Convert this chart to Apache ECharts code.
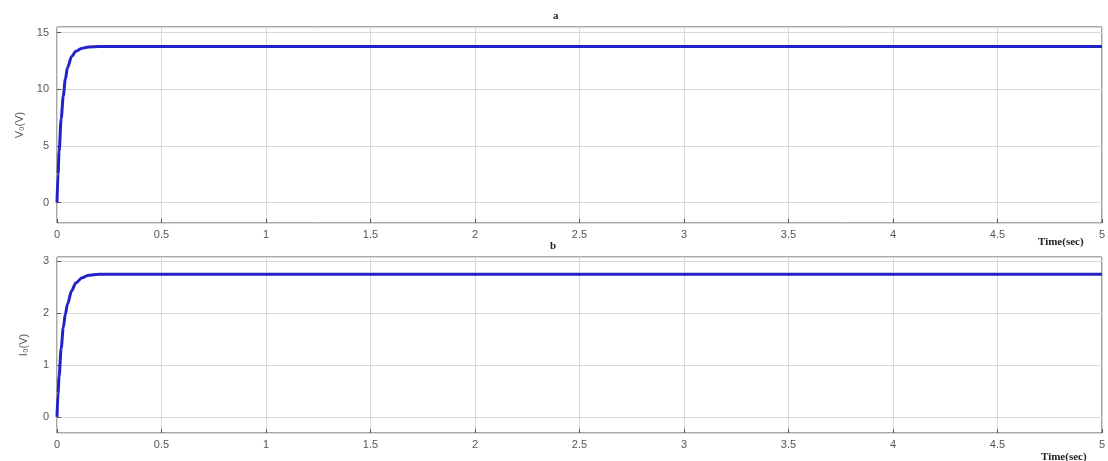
<!DOCTYPE html>
<html><head><meta charset="utf-8">
<script src="https://cdn.jsdelivr.net/npm/echarts@6/dist/echarts.min.js"></script>
<style>html,body{margin:0;padding:0;background:#fff}#c{width:1108px;height:461px}</style>
</head><body><div id="c"></div>
<script>
const timeA = [0,0.005,0.01,0.02,0.03,0.04,0.05,0.07,0.09,0.12,0.15,0.2,0.5,1,2,3,4,5];
const voltA = [0,2.5,4.5,7.4,9.4,10.9,11.9,12.9,13.35,13.62,13.74,13.78,13.78,13.78,13.78,13.78,13.78,13.78];
const timeB = [0,0.005,0.01,0.02,0.03,0.04,0.05,0.07,0.09,0.12,0.15,0.2,0.5,1,2,3,4,5];
const currB = [0,0.45,0.78,1.32,1.72,1.98,2.17,2.43,2.58,2.68,2.73,2.75,2.75,2.75,2.75,2.75,2.75,2.75];
const xTicks = ['0','0.5','1','1.5','2','2.5','3','3.5','4','4.5','5'];

const chart = echarts.init(document.getElementById('c'));
const lab = {color:'#555', fontSize:11, fontFamily:'Liberation Sans, Arial, sans-serif'};
function xAx(i){return {type:'value',gridIndex:i,min:0,max:5,interval:0.5,
  axisLine:{show:false,onZero:false},axisTick:{inside:true,length:4,lineStyle:{color:'#555'}},
  axisLabel:Object.assign({margin:6,formatter:v=>xTicks[Math.round(v*2)]},lab),
  splitLine:{show:true,lineStyle:{color:'#d8d8d8',width:1}}};}
function yAx(i,min,max,sn,name,gap){return {type:'value',gridIndex:i,min:min,max:max,splitNumber:sn,
  axisLine:{show:false,onZero:false},axisTick:{inside:true,length:4,lineStyle:{color:'#555'}},
  axisLabel:Object.assign({margin:8,showMinLabel:false,showMaxLabel:false},lab),
  splitLine:{show:true,lineStyle:{color:'#d8d8d8',width:1}},
  name:name,nameLocation:'middle',nameGap:gap,nameRotate:90,
  nameTextStyle:{color:'#555',fontSize:11,fontFamily:'Liberation Sans, Arial, sans-serif'}};}
chart.setOption({
  backgroundColor:'#fff',
  animation:false,
  title:[
    {text:'a',left:548,top:6,textStyle:{fontSize:11,fontWeight:'bold',fontFamily:'Liberation Serif, serif',color:'#222'}},
    {text:'b',left:545,top:236,textStyle:{fontSize:11,fontWeight:'bold',fontFamily:'Liberation Serif, serif',color:'#222'}},
    {text:'Time(sec)',left:1033,top:232,textStyle:{fontSize:11,fontWeight:'bold',fontFamily:'Liberation Serif, serif',color:'#222'}},
    {text:'Time(sec)',left:1036,top:447,textStyle:{fontSize:11,fontWeight:'bold',fontFamily:'Liberation Serif, serif',color:'#222'}}
  ],
  grid:[
    {left:57,top:27,right:5,height:196,show:true,borderColor:'#555',borderWidth:1,backgroundColor:'#fff'},
    {left:57,top:257,right:5,height:176,show:true,borderColor:'#555',borderWidth:1,backgroundColor:'#fff'}
  ],
  xAxis:[xAx(0),xAx(1)],
  yAxis:[yAx(0,-1.8,15.5,4,'V\u2080(V)',32),yAx(1,-0.31,3.08,3,'I\u2080(V)',28)],
  series:[
    {type:'line',xAxisIndex:0,yAxisIndex:0,data:timeA.map((t,i)=>[t,voltA[i]]),showSymbol:false,smooth:0.3,smoothMonotone:'x',
     lineStyle:{color:'#2222c8',width:3}},
    {type:'line',xAxisIndex:1,yAxisIndex:1,data:timeB.map((t,i)=>[t,currB[i]]),showSymbol:false,smooth:0.3,smoothMonotone:'x',
     lineStyle:{color:'#2222c8',width:3}}
  ]
});
</script></body></html>
